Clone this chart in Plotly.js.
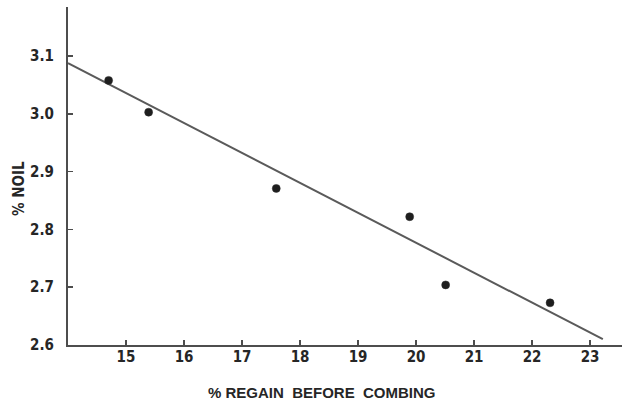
<!DOCTYPE html>
<html>
<head>
<meta charset="utf-8">
<script src="https://cdn.plot.ly/plotly-3.0.1.min.js"></script>
<style>
  html, body { margin: 0; padding: 0; background: #ffffff; }
  #chart { width: 622px; height: 402px; }
</style>
</head>
<body>
<div id="chart"></div>
<script>
// Observed points
var regainX = [14.70, 15.39, 17.59, 19.89, 20.51, 22.31];
var noilY   = [3.058, 3.003, 2.871, 2.822, 2.704, 2.673];

// Fitted regression line (end points)
var fitX = [14.0, 23.22];
var fitY = [3.088, 2.610];

// Axis ticks
var xTicks = [15, 16, 17, 18, 19, 20, 21, 22, 23];
var yTicks = [2.6, 2.7, 2.8, 2.9, 3.0, 3.1];
var yTickText = ["2.6", "2.7", "2.8", "2.9", "3.0", "3.1"];

var axisColor = "#4d4d4d";
var textColor = "#262626";
var fontFam = "Liberation Sans, Arial, sans-serif";
var narrowFam = "Liberation Sans Narrow, DejaVu Sans Condensed, Liberation Sans, sans-serif";

var traces = [
  {
    x: fitX, y: fitY, type: "scatter", mode: "lines",
    line: { color: "#5a5a5a", width: 2 },
    hoverinfo: "skip", showlegend: false
  },
  {
    x: regainX, y: noilY, type: "scatter", mode: "markers",
    marker: { color: "#1e1e1e", size: 8, line: { color: "#2a2a2a", width: 0.5 } },
    showlegend: false
  }
];

var layout = {
  width: 622, height: 402,
  margin: { l: 68, r: 0, t: 7, b: 57 },
  paper_bgcolor: "#ffffff",
  plot_bgcolor: "#ffffff",
  font: { family: fontFam, size: 15, color: textColor },
  showlegend: false,
  xaxis: {
    range: [14, 23.55],
    tickvals: xTicks,
    ticktext: xTicks.map(String),
    ticks: "inside", ticklen: 5, tickwidth: 1.5, tickcolor: axisColor,
    showline: true, linecolor: axisColor, linewidth: 2,
    showgrid: false, zeroline: false,
    ticklabelstandoff: -3,
    tickfont: { family: narrowFam, size: 15, color: textColor, weight: "bold" }
  },
  yaxis: {
    range: [2.6, 3.185],
    tickvals: yTicks,
    ticktext: yTickText,
    ticks: "inside", ticklen: 5, tickwidth: 1.5, tickcolor: axisColor,
    showline: true, linecolor: axisColor, linewidth: 2,
    showgrid: false, zeroline: false,
    ticklabelstandoff: 9,
    tickfont: { family: narrowFam, size: 15, color: textColor, weight: "bold" }
  },
  annotations: [
    {
      text: "% REGAIN  BEFORE  COMBING",
      xref: "paper", yref: "paper",
      x: (322 - 68) / 554, y: -(392 - 345) / 338,
      xanchor: "center", yanchor: "middle",
      showarrow: false,
      font: { family: fontFam, size: 15, color: textColor, weight: "bold" }
    },
    {
      text: "% NOIL",
      xref: "paper", yref: "paper",
      x: (19 - 68) / 554, y: (345 - 189) / 338,
      xanchor: "center", yanchor: "middle",
      textangle: -90,
      showarrow: false,
      font: { family: narrowFam, size: 15, color: textColor, weight: "bold" }
    }
  ]
};

Plotly.newPlot("chart", traces, layout, { staticPlot: true, displayModeBar: false });
</script>
</body>
</html>
